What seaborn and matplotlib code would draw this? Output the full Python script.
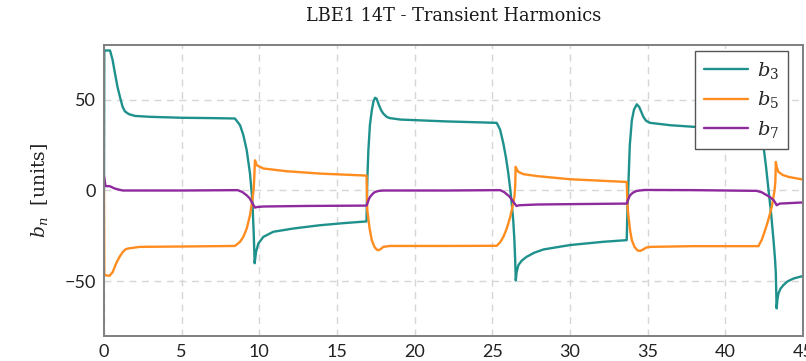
import pandas as pd
import matplotlib
matplotlib.use("Agg")
import matplotlib.pyplot as plt
import seaborn as sns

# --- transient harmonic traces (time, harmonic in units) ---
b3_t = [0, 0.02, 0.06, 0.39, 0.55, 0.71, 0.87, 1.03, 1.2, 1.35, 1.6, 2.0, 3.0,
        5.0, 7.0, 8.43, 8.76, 8.97, 9.19, 9.40, 9.55, 9.64, 9.70, 9.79, 9.94,
        10.26, 10.9, 12.19, 13.9, 15.5, 16.9,
        16.95, 17.02, 17.12, 17.24, 17.35, 17.45, 17.55, 17.7, 17.85, 17.98,
        18.2, 18.4, 19.1, 22.0, 25.28,
        25.5, 25.71, 25.88, 26.03, 26.15, 26.25, 26.35, 26.42, 26.47, 26.51,
        26.56, 26.68, 26.9, 27.2, 27.7, 28.3, 30.0, 32.15, 33.65,
        33.7, 33.76, 33.85, 33.98, 34.12, 34.3, 34.45, 34.6, 34.73, 34.9,
        35.16, 36.45, 38.0, 40.0, 42.05,
        42.25, 42.46, 42.62, 42.78, 42.95, 43.1, 43.2, 43.25, 43.3, 43.35,
        43.42, 43.55, 43.74, 44.0, 44.39, 45.0]
b3_v = [0, 76, 77, 77, 72, 64.3, 57, 51.4, 46, 43.5, 42, 41, 40.5,
        40, 39.8, 39.6, 35.9, 30.5, 22.1, 9.3, -5.3, -23.6, -40, -33.7, -29.1,
        -25.5, -22.7, -20.9, -19.1, -17.9, -17,
        5, 22, 36, 44, 49, 51, 50.5, 47, 44, 42.3,
        40.5, 39.8, 39, 38, 37.2,
        33.5, 25.8, 18, 9.3, 1, -7.2, -17, -27.3, -38, -49.5,
        -45, -41, -38.5, -36.5, -34.2, -32.4, -30, -28.2, -27.3,
        -10, 3.8, 25, 38.6, 44.5, 47.4, 46, 43, 40.4, 38.3,
        37.2, 35.9, 35, 34.6, 34.3,
        31, 24, 13, 0.2, -13, -27.3, -38, -45.6, -64.8, -60,
        -56.6, -54, -52, -50, -48.4, -47]

b5_t = [0, 0.02, 0.36, 0.55, 0.79, 1.0, 1.22, 1.4, 1.55, 2.3, 5.0, 8.43,
        8.76, 8.97, 9.19, 9.40, 9.55, 9.64, 9.68, 9.72, 9.83, 10.26, 11.76,
        13.9, 16.9,
        16.95, 17.1, 17.24, 17.4, 17.55, 17.67, 17.8, 17.98, 18.4, 22.0, 25.28,
        25.5, 25.71, 25.88, 26.03, 26.15, 26.25, 26.35, 26.42, 26.47, 26.5,
        26.6, 26.68, 27.0, 27.9, 30.0, 33.65,
        33.7, 33.76, 33.87, 33.98, 34.15, 34.35, 34.52, 34.7, 34.9, 35.16,
        38.0, 42.13,
        42.35, 42.56, 42.72, 42.88, 43.0, 43.1, 43.18, 43.22, 43.25, 43.32,
        43.42, 43.7, 44.06, 45.0]
b5_v = [0, -46.5, -46.9, -45, -40, -36.5, -33.7, -32.3, -31.9, -31, -30.8, -30.5,
        -28.2, -25.5, -20.9, -13.6, -5.3, 1.1, 8, 16.6, 13.9, 12.1, 10.6,
        9.3, 8.2,
        -10.8, -21, -27.3, -30.8, -32.5, -32.8, -32.3, -31, -30.5, -30.5, -30.4,
        -28.5, -25.5, -22, -18.1, -14.5, -10.8, -6.5, -3.5, 2, 13,
        11.2, 10.2, 9, 7.9, 6.2, 4.7,
        -8, -14, -22, -27.3, -31, -33, -33.2, -32.5, -31.4, -31,
        -30.6, -30.6,
        -27, -21.8, -17.5, -12.6, -8.5, -3.5, 1, 5, 15.7, 12.5,
        10.2, 8.5, 7.5, 6]

b7_t = [0, 0.1, 0.36, 0.69, 1.0, 1.22, 5.0, 8.6, 8.9, 9.18, 9.38, 9.51, 9.62,
        9.72, 9.85, 10.26, 13.0, 16.9,
        16.98, 17.05, 17.13, 17.3, 17.45, 17.7, 17.98, 22.0, 25.5,
        25.75, 25.92, 26.1, 26.25, 26.4, 26.55, 26.75, 27.9, 30.0, 33.65,
        33.72, 33.8, 33.87, 34.05, 34.3, 34.8, 38.0, 42.02,
        42.35, 42.67, 42.9, 43.1, 43.2, 43.3, 43.5, 44.92, 45.0]
b7_v = [8, 2.4, 2.4, 1.1, 0.4, 0, 0, 0.2, -0.8, -2.6, -4.3, -6.3, -8,
        -9.4, -9.1, -8.8, -8.5, -8.3,
        -6.5, -4.8, -3.5, -1.8, -0.8, -0.2, 0, 0, 0.2,
        -0.8, -2, -3.3, -5, -6.8, -8.5, -8.1, -7.7, -7.5, -7.2,
        -5.5, -3.8, -2.6, -1.2, -0.2, 0.3, 0.2, -0.2,
        -1, -2.6, -3.8, -5.3, -6.5, -8.1, -7.2, -6.6, -6.6]

series_labels = [r"$b_3$", r"$b_5$", r"$b_7$"]
series_colors = ["#1f918c", "#ff8c1f", "#8e2a9e"]

x_ticks = [0, 5, 10, 15, 20, 25, 30, 35, 40, 45]
y_ticks = [-50, 0, 50]

frames = []
for lab, t, v in zip(series_labels, [b3_t, b5_t, b7_t], [b3_v, b5_v, b7_v]):
    frames.append(pd.DataFrame({"t": t, "bn": v, "harmonic": lab}))
df = pd.concat(frames, ignore_index=True)

sns.set_theme(style="whitegrid")
plt.rcParams["font.family"] = ["Lato", "DejaVu Sans"]
plt.rcParams["mathtext.fontset"] = "dejavuserif"
plt.rcParams["axes.unicode_minus"] = True

fig = plt.figure(figsize=(8.06, 3.61), dpi=100)
ax = fig.add_axes([0.129, 0.0693, 0.8673, 0.806])

sns.lineplot(data=df, x="t", y="bn", hue="harmonic", hue_order=series_labels,
             palette=series_colors, estimator=None, sort=False,
             linewidth=1.7, ax=ax)

ax.set_xlim(0, 45)
ax.set_ylim(-80, 80)
ax.set_xticks(x_ticks)
ax.set_yticks(y_ticks)
ax.tick_params(axis="both", length=0, pad=6, labelsize=13, colors="#222222")

ax.grid(True, color="#d6d6d6", linestyle=(0, (5, 4)), linewidth=1.0)
ax.set_axisbelow(True)
for sp in ax.spines.values():
    sp.set_color("#7f7f7f")
    sp.set_linewidth(1.4)

ax.set_xlabel("")
ax.set_ylabel(r"$b_n$  [units]", fontsize=13.5, family="DejaVu Serif",
              color="#222222", labelpad=10)
ax.set_title("LBE1 14T - Transient Harmonics", fontsize=12.8,
             family="DejaVu Serif", color="#1a1a1a", pad=17)

handles, labels = ax.get_legend_handles_labels()
leg = ax.legend(handles, labels, loc="upper right",
                bbox_to_anchor=(788 / 806, 1 - 51 / 361),
                bbox_transform=fig.transFigure,
                borderaxespad=0, fancybox=False, framealpha=1,
                edgecolor="#555555", fontsize=14, handlelength=2.3,
                handletextpad=0.45, labelspacing=0.45, borderpad=0.45)
leg.get_frame().set_linewidth(1.0)

fig.savefig("out.png", dpi=100)
